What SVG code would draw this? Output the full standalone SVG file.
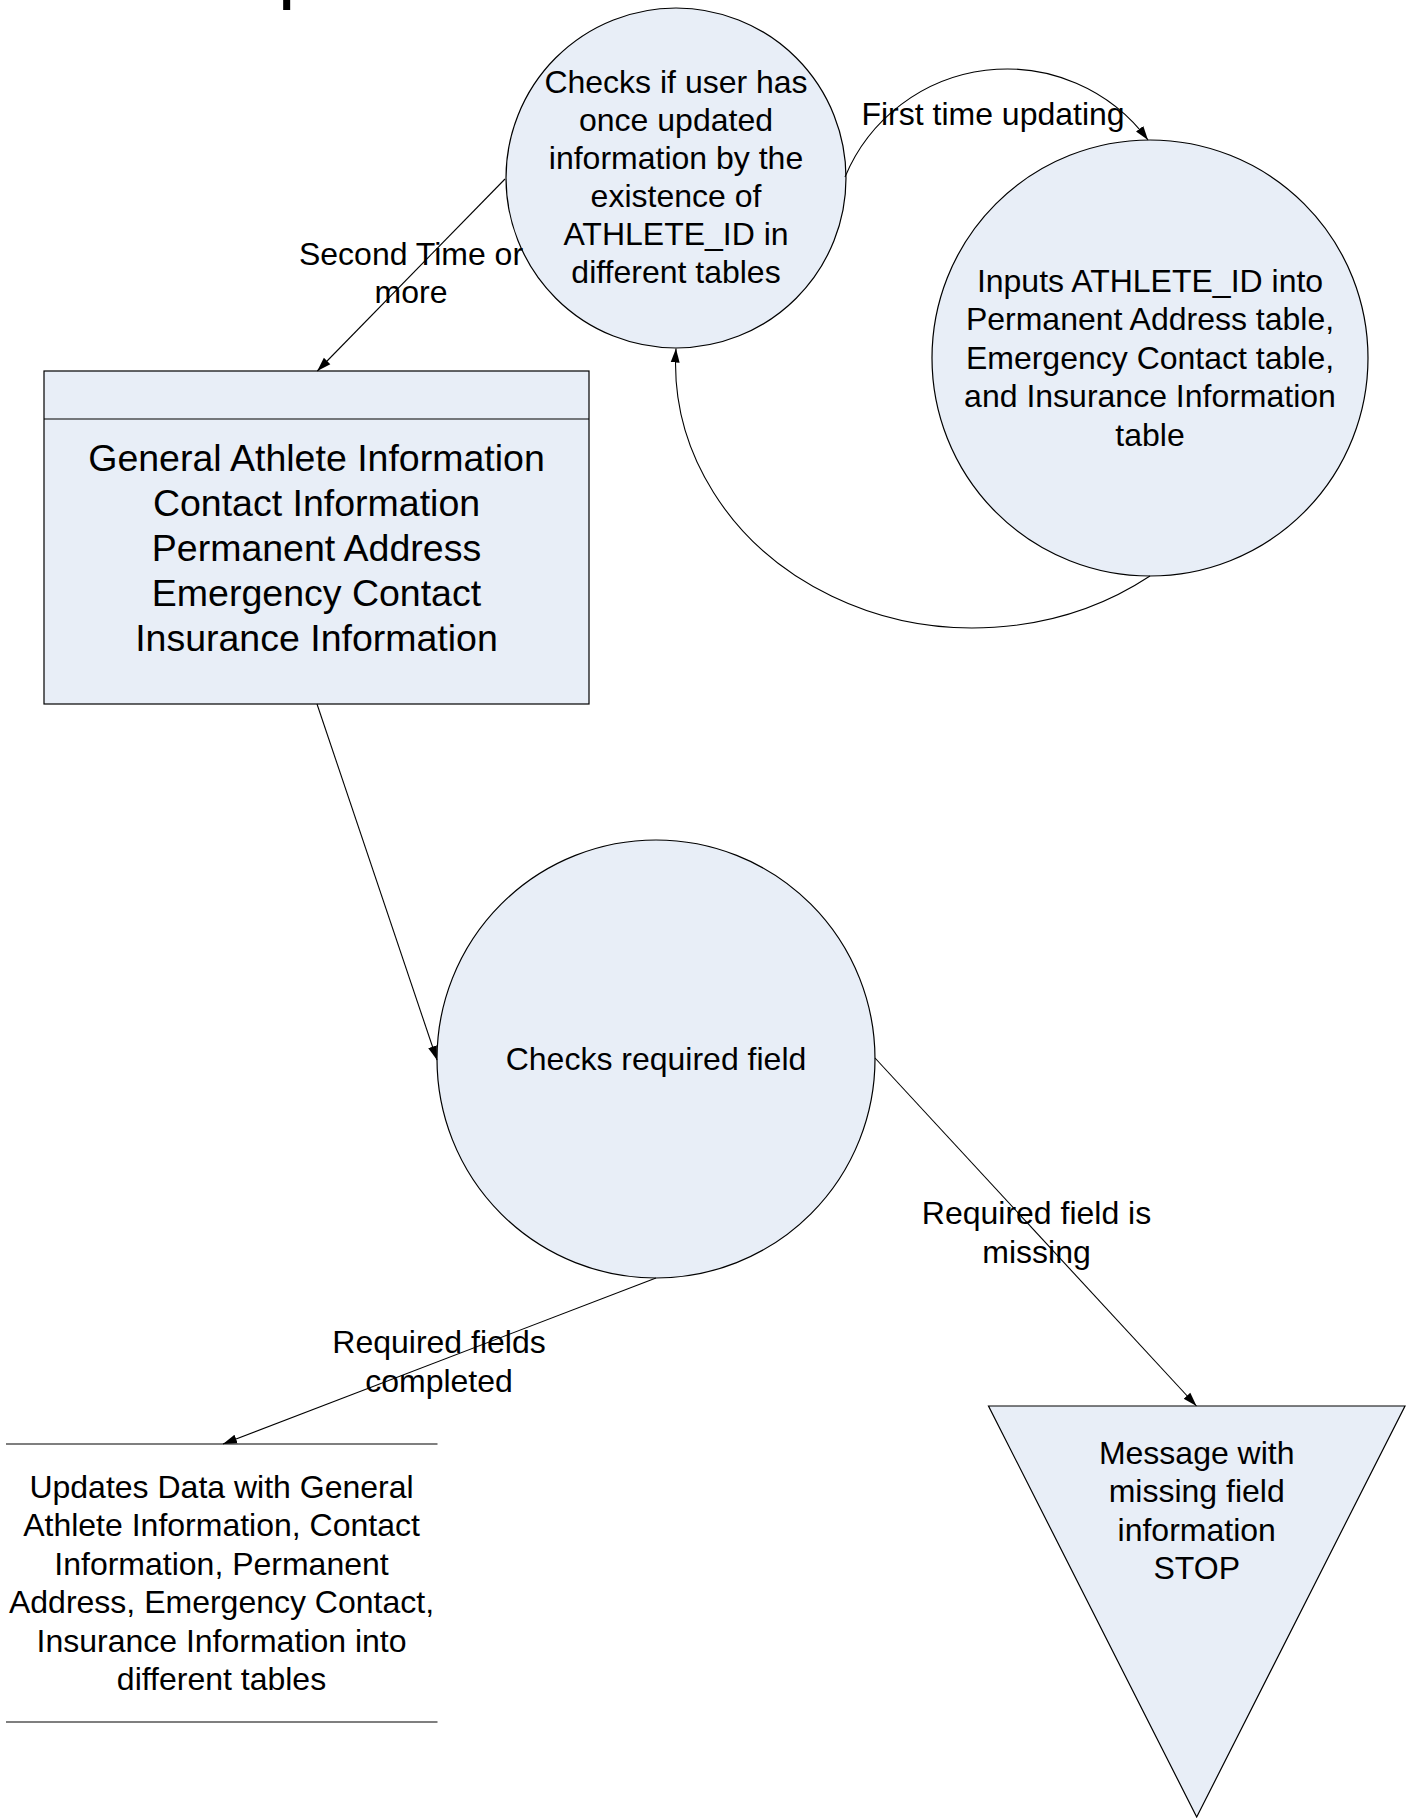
<svg xmlns="http://www.w3.org/2000/svg" width="1416" height="1818" viewBox="0 0 1416 1818">
  <style>
    .shape { fill: #E8EEF7; stroke: #000; stroke-width: 1.2; }
    .line { fill: none; stroke: #000; stroke-width: 1.1; }
    .t { font-family: "Liberation Sans", Arial, sans-serif; font-size: 32px; fill: #000; text-anchor: middle; }
    .tb { font-family: "Liberation Sans", Arial, sans-serif; font-size: 37.5px; fill: #000; text-anchor: middle; }
  </style>
  <defs>
    <marker id="arrow" markerUnits="userSpaceOnUse" markerWidth="15" markerHeight="12" viewBox="0 0 15 12" refX="14" refY="6" orient="auto">
      <path d="M0,1.5 L14,6 L0,10.5 Z" fill="#000"/>
    </marker>
  </defs>
  <rect width="1416" height="1818" fill="#fff"/>

  <text id="title" x="277.7" y="-6.8" font-family="Liberation Sans, Arial, sans-serif" font-size="80" fill="#000">p</text>

  <g id="check-update">
    <circle class="shape" cx="676" cy="178" r="170"/>
    <text class="t" x="676" y="93">Checks if user has</text>
    <text class="t" x="676" y="131">once updated</text>
    <text class="t" x="676" y="169">information by the</text>
    <text class="t" x="676" y="207">existence of</text>
    <text class="t" x="676" y="245">ATHLETE_ID in</text>
    <text class="t" x="676" y="283">different tables</text>
  </g>

  <g id="inputs-id">
    <circle class="shape" cx="1150" cy="358" r="218"/>
    <text class="t" x="1150" y="291.5">Inputs ATHLETE_ID into</text>
    <text class="t" x="1150" y="330">Permanent Address table,</text>
    <text class="t" x="1150" y="368.5">Emergency Contact table,</text>
    <text class="t" x="1150" y="407">and Insurance Information</text>
    <text class="t" x="1150" y="445.5">table</text>
  </g>

  <g id="info-box">
    <rect class="shape" x="44" y="371" width="545" height="333"/>
    <line class="line" x1="44" y1="419" x2="589" y2="419"/>
    <text class="tb" x="316.5" y="471">General Athlete Information</text>
    <text class="tb" x="316.5" y="516">Contact Information</text>
    <text class="tb" x="316.5" y="561">Permanent Address</text>
    <text class="tb" x="316.5" y="606">Emergency Contact</text>
    <text class="tb" x="316.5" y="651">Insurance Information</text>
  </g>

  <g id="check-required">
    <circle class="shape" cx="656" cy="1059" r="219"/>
    <text class="t" x="656" y="1069.5">Checks required field</text>
  </g>

  <g id="stop-message">
    <polygon class="shape" points="988.5,1406 1405,1406 1196.7,1817"/>
    <text class="t" x="1196.7" y="1463.5">Message with</text>
    <text class="t" x="1196.7" y="1502">missing field</text>
    <text class="t" x="1196.7" y="1540.5">information</text>
    <text class="t" x="1196.7" y="1579">STOP</text>
  </g>

  <g id="data-store">
    <line class="line" x1="6" y1="1444" x2="437.5" y2="1444"/>
    <line class="line" x1="6" y1="1722" x2="437.5" y2="1722"/>
    <text class="t" x="221.5" y="1497.5">Updates Data with General</text>
    <text class="t" x="221.5" y="1536">Athlete Information, Contact</text>
    <text class="t" x="221.5" y="1574.5">Information, Permanent</text>
    <text class="t" x="221.5" y="1613">Address, Emergency Contact,</text>
    <text class="t" x="221.5" y="1651.5">Insurance Information into</text>
    <text class="t" x="221.5" y="1690">different tables</text>
  </g>

  <g id="connectors">
    <path class="line" d="M845,177 A175.5,175.5 0 0 1 1148,140" marker-end="url(#arrow)"/>
    <path class="line" d="M1150,576 A297.5,265 0 0 1 676,348.5" marker-end="url(#arrow)"/>
    <line class="line" x1="505" y1="179" x2="317.3" y2="371" marker-end="url(#arrow)"/>
    <line class="line" x1="317" y1="704" x2="437" y2="1060" marker-end="url(#arrow)"/>
    <line class="line" x1="875" y1="1058" x2="1196.5" y2="1406" marker-end="url(#arrow)"/>
    <line class="line" x1="656" y1="1278" x2="223" y2="1444" marker-end="url(#arrow)"/>
    <text class="t" x="993" y="124.5">First time updating</text>
    <text class="t" x="411" y="264.5">Second Time or</text>
    <text class="t" x="411" y="303">more</text>
    <text class="t" x="1036.5" y="1224">Required field is</text>
    <text class="t" x="1036.5" y="1262.5">missing</text>
    <text class="t" x="439" y="1353">Required fields</text>
    <text class="t" x="439" y="1391.5">completed</text>
  </g>
</svg>
